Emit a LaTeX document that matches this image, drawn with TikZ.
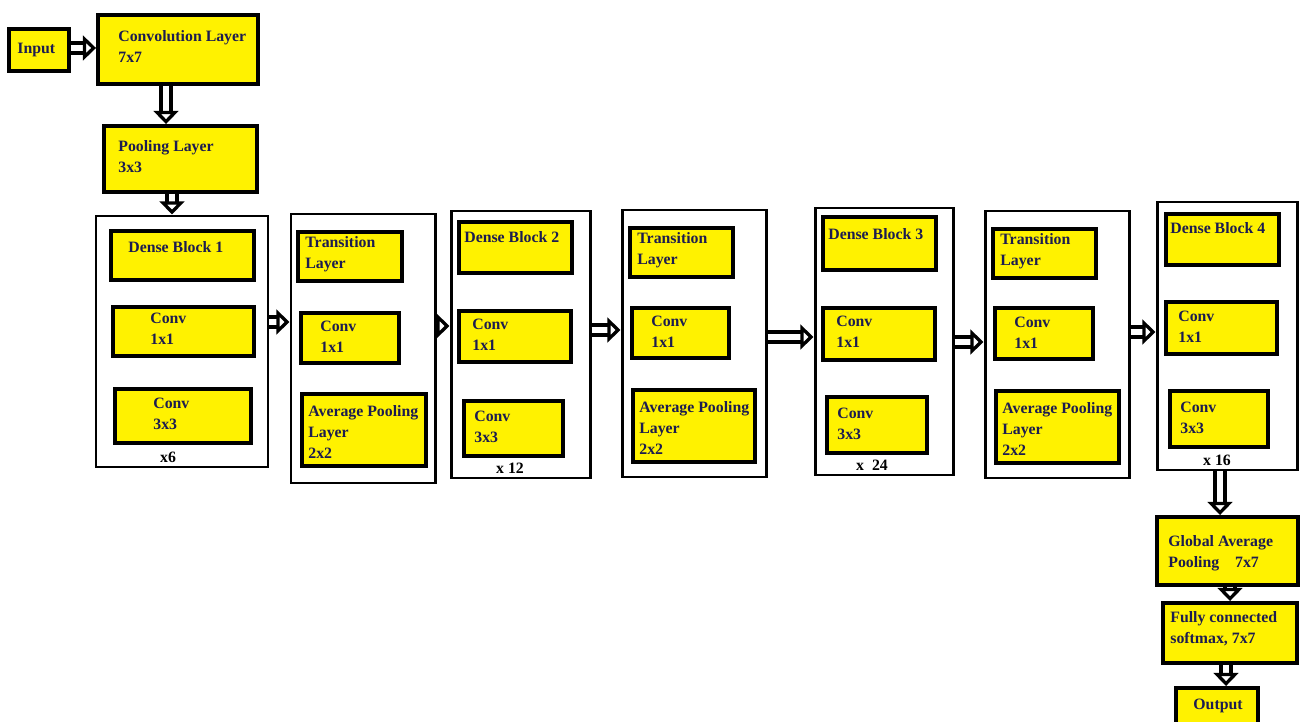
\documentclass[tikz,border=0pt]{standalone}
\usepackage{fontspec}
\setmainfont{Liberation Serif}
\usetikzlibrary{arrows.meta,fit}

\definecolor{boxyellow}{HTML}{FFF200}
\definecolor{inkblue}{HTML}{1C1C50}

\begin{document}
\begin{tikzpicture}[x=0.02cm,y=-0.02cm,
    layer/.style={draw, line width=2.2pt, fill=boxyellow, inner sep=0pt},
    block/.style={draw, line width=1.7pt, inner sep=0pt},
    lbl/.style={anchor=north west, inner sep=0pt, align=left,
      font=\fontsize{9}{12}\selectfont\bfseries, text=inkblue},
    rep/.style={inner sep=0pt, font=\fontsize{9}{12}\selectfont\bfseries},
    flow/.style={line width=2pt, double=white, double distance=3.6pt,
      -{Triangle[open, fill=white, length=7.5pt, width=14pt]}}]
  \useasboundingbox (0,0) rectangle (1300,722);
  % input, first convolution and pooling
  \node[layer, fit={(9,29) (69,71)}] (inp) {};
  \node[lbl, anchor=west] (inpt) at (17,50) {Input};
  \node[layer, fit={(98,15) (258,84)}] (conv) {};
  \node[lbl] (convt) at (118,30) {Convolution Layer\\7x7};
  \node[layer, fit={(104,126) (257,192)}] (pool) {};
  \node[lbl] (poolt) at (118,140) {Pooling Layer\\3x3};
  % dense block 1
  \node[block, fit={(96,216) (268,467)}] (d1) {};
  \node[layer, fit={(111,231) (254,280)}] (d1a) {};
  \node[lbl] (d1at) at (128,241) {Dense Block 1};
  \node[layer, fit={(113,307) (254,356)}] (d1b) {};
  \node[lbl] (d1bt) at (150,313) {Conv\\1x1};
  \node[layer, fit={(115,389) (251,443)}] (d1c) {};
  \node[lbl] (d1ct) at (153,398) {Conv\\3x3};
  \node[rep] (d1n) at (168,457) {x6};
  % transition layer 1
  \node[block, fit={(291,214) (435,483)}] (t1) {};
  \node[layer, fit={(298,232) (402,281)}] (t1a) {};
  \node[lbl] (t1at) at (305,236) {Transition\\Layer};
  \node[layer, fit={(301,313) (399,363)}] (t1b) {};
  \node[lbl] (t1bt) at (320,321) {Conv\\1x1};
  \node[layer, fit={(302,394) (426,466)}] (t1c) {};
  \node[lbl] (t1ct) at (308,405) {Average Pooling\\Layer\\2x2};
  % dense block 2
  \node[block, fit={(451,211) (590,478)}] (d2) {};
  \node[layer, fit={(459,222) (572,273)}] (d2a) {};
  \node[lbl] (d2at) at (464,231) {Dense Block 2};
  \node[layer, fit={(459,311) (571,362)}] (d2b) {};
  \node[lbl] (d2bt) at (472,319) {Conv\\1x1};
  \node[layer, fit={(464,401) (563,456)}] (d2c) {};
  \node[lbl] (d2ct) at (474,411) {Conv\\3x3};
  \node[rep] (d2n) at (510,468) {x 12};
  % transition layer 2
  \node[block, fit={(622,210) (766,477)}] (t2) {};
  \node[layer, fit={(630,228) (733,277)}] (t2a) {};
  \node[lbl] (t2at) at (637,232) {Transition\\Layer};
  \node[layer, fit={(632,308) (729,358)}] (t2b) {};
  \node[lbl] (t2bt) at (651,316) {Conv\\1x1};
  \node[layer, fit={(633,390) (755,462)}] (t2c) {};
  \node[lbl] (t2ct) at (639,401) {Average Pooling\\Layer\\2x2};
  % dense block 3
  \node[block, fit={(815,208) (953,475)}] (d3) {};
  \node[layer, fit={(823,217) (936,270)}] (d3a) {};
  \node[lbl] (d3at) at (828,228) {Dense Block 3};
  \node[layer, fit={(823,308) (935,360)}] (d3b) {};
  \node[lbl] (d3bt) at (836,316) {Conv\\1x1};
  \node[layer, fit={(827,397) (927,453)}] (d3c) {};
  \node[lbl] (d3ct) at (837,408) {Conv\\3x3};
  \node[rep] (d3n) at (872,465) {x~~24};
  % transition layer 3
  \node[block, fit={(985,211) (1129,478)}] (t3) {};
  \node[layer, fit={(993,229) (1096,278)}] (t3a) {};
  \node[lbl] (t3at) at (1000,233) {Transition\\Layer};
  \node[layer, fit={(995,308) (1093,359)}] (t3b) {};
  \node[lbl] (t3bt) at (1014,317) {Conv\\1x1};
  \node[layer, fit={(996,391) (1119,463)}] (t3c) {};
  \node[lbl] (t3ct) at (1002,402) {Average Pooling\\Layer\\2x2};
  % dense block 4
  \node[block, fit={(1157,202) (1297,470)}] (d4) {};
  \node[layer, fit={(1166,214) (1279,265)}] (d4a) {};
  \node[lbl] (d4at) at (1170,222) {Dense Block 4};
  \node[layer, fit={(1166,302) (1277,354)}] (d4b) {};
  \node[lbl] (d4bt) at (1178,311) {Conv\\1x1};
  \node[layer, fit={(1170,391) (1268,447)}] (d4c) {};
  \node[lbl] (d4ct) at (1180,402) {Conv\\3x3};
  \node[rep] (d4n) at (1217,460) {x 16};
  % classifier
  \node[layer, fit={(1157,517) (1298,585)}] (gap) {};
  \node[lbl] (gapt) at (1168,535) {Global Average\\Pooling\quad 7x7};
  \node[layer, fit={(1163,603) (1297,663)}] (fc) {};
  \node[lbl] (fct) at (1170,611) {Fully connected\\softmax, 7x7};
  \node[layer, fit={(1176,688) (1258,735)}] (out) {};
  \node[lbl, anchor=center] (outt) at (1218,706) {Output};
  % connectors
  \draw[flow] (inp.east |- 0,48) -- (conv.west |- 0,48);
  \draw[flow] (conv.south -| 166,0) -- (pool.north -| 166,0);
  \draw[flow] (pool.south -| 172,0) -- (d1.north -| 172,0);
  \draw[flow] (d1.east |- 0,322) -- (t1.west |- 0,322);
  \draw[flow] (t1.east |- 0,326) -- (d2.west |- 0,326);
  \draw[flow] (d2.east |- 0,330) -- (t2.west |- 0,330);
  \draw[flow] (t2.east |- 0,337) -- (d3.west |- 0,337);
  \draw[flow] (d3.east |- 0,342) -- (t3.west |- 0,342);
  \draw[flow] (t3.east |- 0,332) -- (d4.west |- 0,332);
  \draw[flow] (d4.south -| 1220,0) -- (gap.north -| 1220,0);
  \draw[flow] (gap.south -| 1230,0) -- (fc.north -| 1230,0);
  \draw[flow] (fc.south -| 1226,0) -- (out.north -| 1226,0);
\end{tikzpicture}
\end{document}
